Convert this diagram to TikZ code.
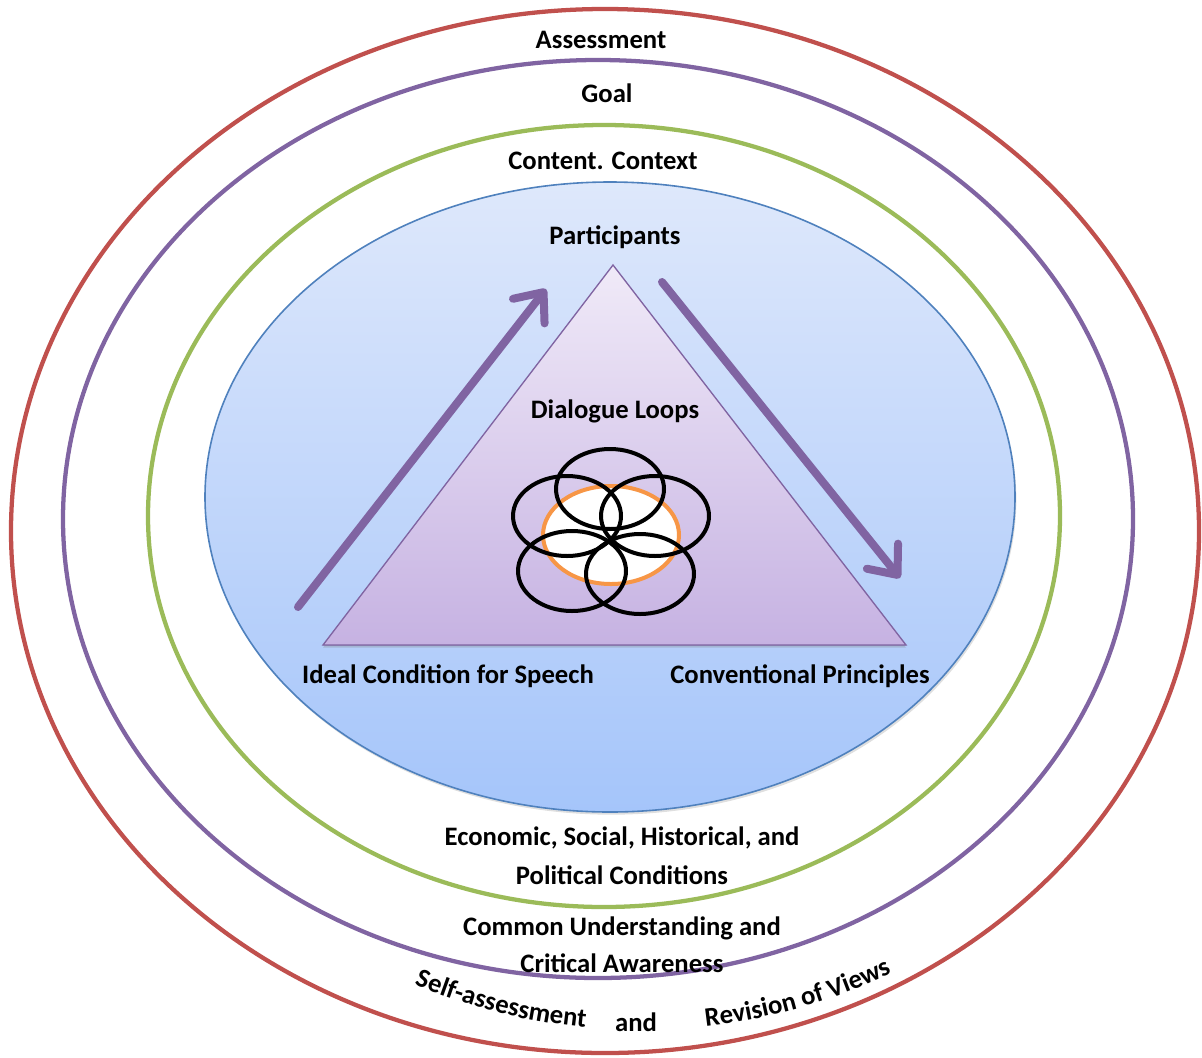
\documentclass[tikz,border=0pt]{standalone}
\usepackage{fontspec}
\setmainfont{Carlito}
\usepackage{xcolor}
\usepackage{tikz}
\usetikzlibrary{arrows.meta,shadows,decorations.text}
\definecolor{ringred}{HTML}{C0504D}
\definecolor{ringviolet}{HTML}{8064A2}
\definecolor{ringgreen}{HTML}{9BBB59}
\definecolor{ringblue}{HTML}{4F81BD}
\definecolor{looporange}{HTML}{F79646}

\begin{document}
\begin{tikzpicture}[x=0.75pt,y=0.75pt,
		lbl/.style={font=\bfseries\fontsize{20}{29}\selectfont,align=center,inner sep=0pt},
		ring/.style={line width=3.2pt},
		loopline/.style={draw=black,line width=3pt},
		flow/.style={draw=ringviolet,line width=6pt,line cap=round,
			-{Straight Barb[length=18pt,width=30pt,round]}}]
			\useasboundingbox (0,0) rectangle (1202,-1057);
			\draw[ring,draw=ringred] (605,-531) ellipse [x radius=594,y radius=522];
			\draw[ring,draw=ringviolet] (598,-519) ellipse [x radius=535,y radius=459];
			\draw[ring,draw=ringgreen] (604,-516) ellipse [x radius=456,y radius=391];
			\draw[line width=1.2pt,draw=ringblue,top color={rgb,255:red,222;green,232;blue,251},
			bottom color={rgb,255:red,165;green,197;blue,250},
			drop shadow={opacity=0.25,shadow xshift=1pt,shadow yshift=-2pt}]
			(610,-497) ellipse [x radius=405,y radius=315];
			\coordinate (apex) at (613,-265);
			\coordinate (left) at (323,-645);
			\coordinate (right) at (906,-645);
			\filldraw[draw=ringviolet,line width=1pt,top color={rgb,255:red,240;green,234;blue,248},
			bottom color={rgb,255:red,198;green,178;blue,226},
			drop shadow={opacity=0.3,shadow xshift=0pt,shadow yshift=-2pt}]
			(apex) -- (right) -- (left) -- cycle;
			\coordinate (up0) at (298,-607);
			\coordinate (up1) at (546,-289);
			\coordinate (down0) at (662,-282);
			\coordinate (down1) at (900,-578);
			\draw[flow] (up0) -- (up1);
			\draw[flow] (down0) -- (down1);
			\filldraw[draw=looporange,fill=white,line width=3pt] (611,-535) ellipse [x radius=68,y radius=49];
			\draw[loopline] (610,-489) ellipse [x radius=54,y radius=40];
			\draw[loopline] (567,-516) ellipse [x radius=54,y radius=40];
			\draw[loopline] (655,-516) ellipse [x radius=54,y radius=40];
			\draw[loopline] (572,-571) ellipse [x radius=54,y radius=40];
			\draw[loopline] (640,-574) ellipse [x radius=54,y radius=40];
			\node[lbl] (assess) at (601,-40) {Assessment};
			\node[lbl] (goal) at (607,-93) {Goal};
			\node[lbl] (content) at (603,-161) {Content. Context};
			\node[lbl] (particip) at (615,-237) {Participants};
			\node[lbl] (dialogue) at (615,-411) {Dialogue Loops};
			\node[lbl] (ideal) at (448,-676) {Ideal Condition for Speech};
			\node[lbl] (convent) at (800,-676) {Conventional Principles};
			\node[lbl] (cond) at (622,-856) {Economic, Social, Historical, and\\Political Conditions};
			\node[lbl,font=\bfseries\fontsize{20}{28}\selectfont] (common) at (622,-945) {Common Understanding and\\Critical Awareness};
			\node[lbl] (and) at (636,-1022) {and};
			\path[decorate,decoration={text along path,text align=center,
				text={|\bfseries\fontsize{20}{25}\selectfont|Self-assessment}}]
			(640,-445) ++(-113:585) arc [start angle=-113,end angle=-95,radius=585];
			\path[decorate,decoration={text along path,text align=center,
				text={|\bfseries\fontsize{20}{25}\selectfont|Revision of Views}}]
			(640,-445) ++(-84:585) arc [start angle=-84,end angle=-64,radius=585];
		\end{tikzpicture}
\end{document}
